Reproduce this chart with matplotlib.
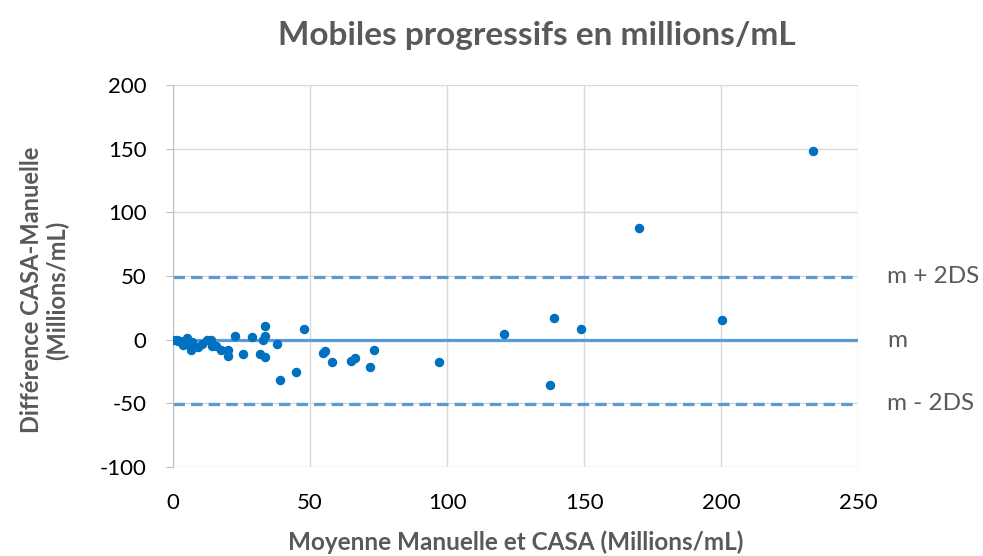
import matplotlib.pyplot as plt
import numpy as np

# Bland-Altman points (mean of methods, difference CASA - manual)
moyenne = [0.1, 1.3, 2.0, 2.6, 3.5, 4.0, 5.0, 5.5, 6.2, 6.5, 7.0, 9.2, 10.5,
           12.3, 13.7, 14.4, 15.7, 17.5, 20.2, 20.2, 22.8, 25.4, 28.9, 31.8,
           33.6, 33.4, 33.4, 33.0, 38.1, 39.2, 44.8, 47.8, 54.9, 55.5, 58.1,
           65.0, 66.3, 71.9, 73.4, 97.2, 120.9, 137.4, 139.0, 148.9, 170.1,
           200.2, 233.5]
difference = [0.0, -0.5, -1.0, -1.3, -4.0, -2.0, 1.3, -3.5, -2.6, -8.4, -1.5,
              -5.8, -3.4, -0.5, 0.0, -5.2, -4.7, -8.4, -8.4, -13.0, 3.1, -11.0,
              2.4, -11.0, -13.6, 11.0, 3.1, 0.0, -3.7, -32.0, -25.4, 8.6, -10.5,
              -9.2, -17.8, -17.0, -14.4, -21.5, -7.9, -17.5, 4.4, -35.6, 16.8,
              8.6, 87.7, 15.2, 148.5]

m = -0.3
ds2 = 49.9
lignes = [m + ds2, m, m - ds2]
etiquettes = ['m + 2DS', 'm', 'm - 2DS']
styles = ['dashed', 'solid', 'dashed']

x_ticks = [0, 50, 100, 150, 200, 250]
y_ticks = [-100, -50, 0, 50, 100, 150, 200]

plt.rcParams['font.family'] = ['Lato', 'DejaVu Sans']
plt.rcParams['axes.unicode_minus'] = False

fig = plt.figure(figsize=(9.83, 5.56), dpi=100)
ax = fig.add_axes([0.176, 0.160, 0.697, 0.687])

gris = '#595959'
bleu_ligne = '#5B9BD5'
bleu_point = '#0070C0'

ax.set_xlim(0, 250)
ax.set_ylim(-100, 200)
ax.set_xticks(x_ticks)
ax.set_yticks(y_ticks)
ax.grid(True, color='#d9d9d9', linewidth=1)
ax.set_axisbelow(True)

for s in ['top', 'right', 'bottom']:
    ax.spines[s].set_visible(False)
ax.spines['left'].set_color('#bfbfbf')
ax.tick_params(axis='y', length=5, color='#bfbfbf', labelsize=16, pad=14)
ax.tick_params(axis='x', length=0, labelsize=16, pad=19)

for val, lab, st in zip(lignes, etiquettes, styles):
    if st == 'dashed':
        ax.axhline(val, color=bleu_ligne, linewidth=2.3, dashes=(3.6, 1.9), zorder=2)
    else:
        ax.axhline(val, color=bleu_ligne, linewidth=2.3, zorder=2)
    ax.annotate(lab, xy=(250, val), xytext=(21, 0), textcoords='offset points',
                ha='left', va='center', fontsize=17.5, color=gris,
                annotation_clip=False)

ax.plot(moyenne, difference, 'o', color=bleu_point, markersize=5.8, zorder=3)

fig.suptitle('Mobiles progressifs en millions/mL', x=0.546, y=0.962,
             fontsize=24, fontweight='bold', color=gris)
ax.set_xlabel('Moyenne Manuelle et CASA (Millions/mL)', fontsize=17.5,
              fontweight='bold', color=gris, labelpad=12)
ax.set_ylabel('Différence CASA-Manuelle\n(Millions/mL)', fontsize=17,
              fontweight='bold', color=gris, linespacing=1.1)
ax.yaxis.set_label_coords(-0.152, 0.463)

fig.savefig('out.png', dpi=100)
plt.close(fig)
